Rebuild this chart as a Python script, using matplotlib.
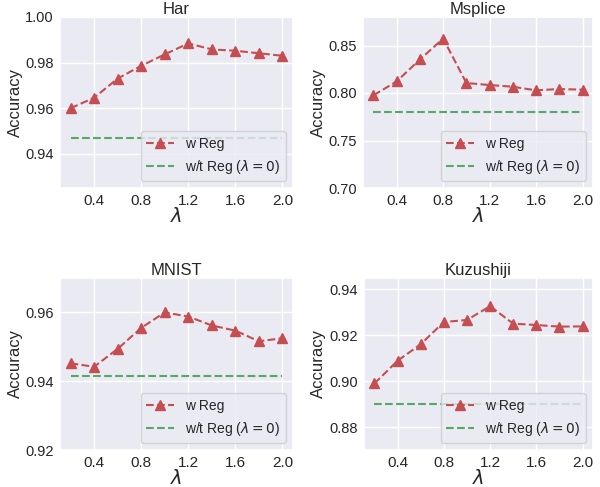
import matplotlib
matplotlib.use("Agg")
import matplotlib.pyplot as plt
import seaborn as sns
import numpy as np
from matplotlib.ticker import FormatStrFormatter, MultipleLocator

sns.set_theme(style="darkgrid")
plt.rcParams['font.family'] = ['Liberation Sans', 'DejaVu Sans']

lam = [0.2, 0.4, 0.6, 0.8, 1.0, 1.2, 1.4, 1.6, 1.8, 2.0]

har_reg = [0.9600, 0.9646, 0.9730, 0.9786, 0.9836, 0.9884, 0.9858, 0.9852, 0.9841, 0.9830]
har_base = 0.9470

msplice_reg = [0.7976, 0.8122, 0.8353, 0.8573, 0.8105, 0.8084, 0.8066, 0.8028, 0.8042, 0.8035]
msplice_base = 0.7797

mnist_reg = [0.9452, 0.9442, 0.9494, 0.9555, 0.9600, 0.9588, 0.9562, 0.9547, 0.9516, 0.9525]
mnist_base = 0.9414

kuzu_reg = [0.8990, 0.9089, 0.9161, 0.9258, 0.9267, 0.9327, 0.9251, 0.9245, 0.9238, 0.9239]
kuzu_base = 0.8900

titles = ["Har", "Msplice", "MNIST", "Kuzushiji"]
regs = [har_reg, msplice_reg, mnist_reg, kuzu_reg]
bases = [har_base, msplice_base, mnist_base, kuzu_base]
ylims = [(0.925, 1.0), (0.70, 0.88), (0.92, 0.97), (0.87, 0.945)]
ysteps = [0.02, 0.05, 0.02, 0.02]

W, H = 600, 487
fig = plt.figure(figsize=(6.0, 4.87), dpi=100)
boxes = [(60, 17, 293, 188), (363, 17, 593, 188), (60, 278, 293, 450), (364, 278, 593, 450)]
ylabel_right = [23, 326, 23, 326]

red = "#C44E52"
green = "#55A868"

for i in range(4):
    x0, y0, x1, y1 = boxes[i]
    w, h = x1 - x0, y1 - y0
    ax = fig.add_axes([x0 / W, 1 - y1 / H, w / W, h / H])
    ax.plot(lam, regs[i], linestyle="--", marker="^", color=red, markersize=7.5,
            linewidth=1.5, label="w Reg")
    ax.plot(lam, [bases[i]] * len(lam), linestyle="--", color=green,
            linewidth=1.5, label=r"w/t Reg ($\lambda=0$)")
    ax.set_ylim(*ylims[i])
    ax.yaxis.set_major_locator(MultipleLocator(ysteps[i]))
    ax.yaxis.set_major_formatter(FormatStrFormatter("%.2f"))
    ax.set_xticks([0.4, 0.8, 1.2, 1.6, 2.0])
    ax.xaxis.set_major_formatter(FormatStrFormatter("%.1f"))
    ax.tick_params(axis="both", length=0)
    ax.tick_params(axis="y", labelsize=10.5, pad=4.5)
    ax.tick_params(axis="x", labelsize=11, pad=4)
    ax.set_title(titles[i], fontsize=12, pad=2)
    ax.set_ylabel("Accuracy", fontsize=12)
    ax.yaxis.set_label_coords((ylabel_right[i] - x0) / w, 0.5)
    ax.set_xlabel(r"$\lambda$", fontsize=14)
    ax.xaxis.set_label_coords(0.5, -19.0 / h)
    ax.legend(loc="lower right", fontsize=10)

fig.savefig("out.png", dpi=100)
